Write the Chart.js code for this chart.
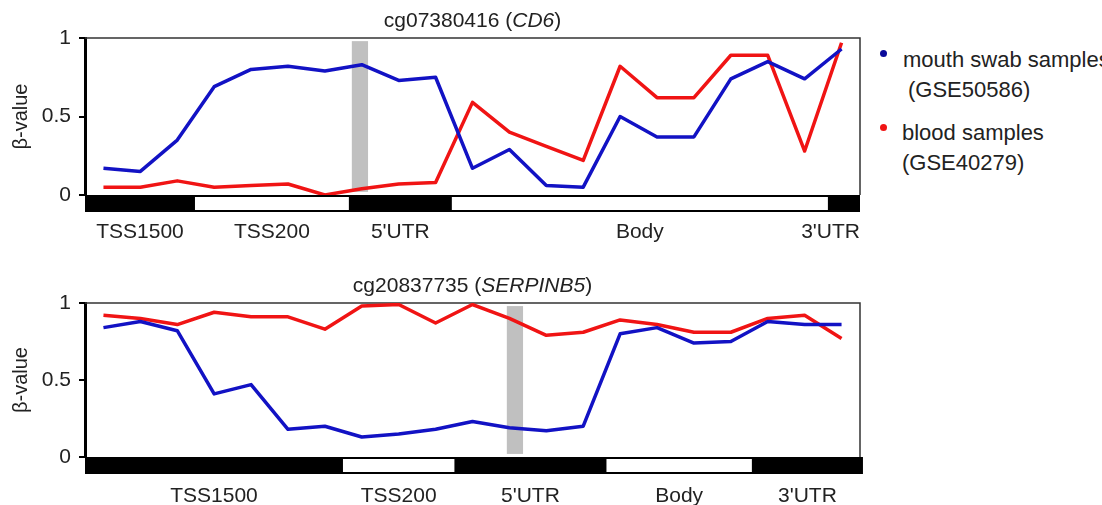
<!DOCTYPE html>
<html>
<head>
<meta charset="utf-8">
<script src="https://cdn.jsdelivr.net/npm/chart.js@4.4.1/dist/chart.umd.min.js"></script>
<style>
  html, body { margin: 0; padding: 0; background: #fff; }
  body { width: 1102px; height: 505px; position: relative; overflow: hidden;
         font-family: 'Liberation Sans', Arial, sans-serif; color: #222; }
  canvas { position: absolute; left: 0; }
  #cTop { top: 0; }
  #cBot { top: 260px; }
  .leg { position: absolute; font-size: 22px; line-height: 26px; white-space: nowrap; }
  .dot { position: absolute; width: 7px; height: 7px; border-radius: 50%; }
</style>
</head>
<body>
<canvas id="cTop" width="880" height="250"></canvas>
<canvas id="cBot" width="880" height="245"></canvas>

<div class="dot" style="left:880px; top:50px; background:#0a0a9a"></div>
<div class="leg" style="left:903px; top:47px">mouth swab samples</div>
<div class="leg" style="left:908px; top:77px">(GSE50586)</div>
<div class="dot" style="left:880px; top:124px; background:#f01414"></div>
<div class="leg" style="left:902px; top:120px">blood samples</div>
<div class="leg" style="left:902px; top:150px">(GSE40279)</div>

<script>
// CpG probes along the gene, 21 per panel
var probes = ['1','2','3','4','5','6','7','8','9','10','11','12','13','14','15','16','17','18','19','20','21'];

// cg07380416 (CD6)
var mouthCD6 = [0.17,0.15,0.35,0.69,0.80,0.82,0.79,0.83,0.73,0.75,0.17,0.29,0.06,0.05,0.50,0.37,0.37,0.74,0.85,0.74,0.93];
var bloodCD6 = [0.05,0.05,0.09,0.05,0.06,0.07,0.00,0.04,0.07,0.08,0.59,0.40,0.31,0.22,0.82,0.62,0.62,0.89,0.89,0.28,0.97];

// cg20837735 (SERPINB5)
var mouthSERP = [0.84,0.88,0.82,0.41,0.47,0.18,0.20,0.13,0.15,0.18,0.23,0.19,0.17,0.20,0.80,0.84,0.74,0.75,0.88,0.86,0.86];
var bloodSERP = [0.92,0.90,0.86,0.94,0.91,0.91,0.83,0.98,0.99,0.87,0.99,0.90,0.79,0.81,0.89,0.86,0.81,0.81,0.90,0.92,0.77];

// gene regions, spans in probe index units
var regionNames = ['TSS1500', 'TSS200', "5'UTR", 'Body', "3'UTR"];
var regionsCD6 = [[-0.5, 2.48], [2.48, 6.65], [6.65, 9.44], [9.44, 19.63], [19.63, 20.5]];
var regionsSERP = [[-0.5, 6.49], [6.49, 9.51], [9.51, 13.63], [13.63, 17.57], [17.57, 20.58]];

// highlighted probe column
var probeCD6 = [6.73, 7.17];
var probeSERP = [10.93, 11.37];

var yTicks = [0, 0.5, 1];

var FONT = "'Liberation Sans', Arial, sans-serif";
var TXT = '#222';

var annot = {
    id: 'annot',
    beforeDatasetsDraw: function (chart, args, o) {
        var ctx = chart.ctx, a = chart.chartArea, x = chart.scales.x, y = chart.scales.y;
        ctx.save();
        ctx.fillStyle = '#c0c0c0';
        var x0 = x.getPixelForValue(o.probe[0]), x1 = x.getPixelForValue(o.probe[1]);
        var y0 = y.getPixelForValue(0.98), y1 = y.getPixelForValue(0.02);
        ctx.fillRect(x0, y0, x1 - x0, y1 - y0);
        // top and right side of the frame
        ctx.strokeStyle = '#333';
        ctx.lineWidth = 1.5;
        ctx.beginPath();
        ctx.moveTo(a.left, a.top);
        ctx.lineTo(a.right, a.top);
        ctx.lineTo(a.right, a.bottom);
        ctx.stroke();
        ctx.restore();
    },
    afterDraw: function (chart, args, o) {
        var ctx = chart.ctx, a = chart.chartArea, x = chart.scales.x;
        ctx.save();
        // region bar
        var top = a.bottom, h = 17;
        var xl = x.getPixelForValue(o.regions[0][0]);
        var xr = x.getPixelForValue(o.regions[o.regions.length - 1][1]);
        ctx.fillStyle = '#000';
        ctx.fillRect(xl, top, xr - xl, h);
        ctx.font = '21px ' + FONT;
        ctx.textBaseline = 'alphabetic';
        o.regions.forEach(function (r, i) {
            var p0 = x.getPixelForValue(r[0]), p1 = x.getPixelForValue(r[1]);
            if (i % 2 == 1) {
                ctx.fillStyle = '#fff';
                ctx.fillRect(p0, top + 2, p1 - p0, h - 4);
            }
            var w = ctx.measureText(regionNames[i]).width;
            var cx = (p0 + p1) / 2;
            var lx = Math.min(Math.max(cx - w / 2, a.left), a.right - w);
            ctx.fillStyle = TXT;
            ctx.fillText(regionNames[i], lx, top + h + o.labelGap);
        });
        // title with italic gene name
        var f1 = '21px ' + FONT, f2 = 'italic 21px ' + FONT;
        ctx.font = f1;
        var w1 = ctx.measureText(o.title + ' (').width;
        var w3 = ctx.measureText(')').width;
        ctx.font = f2;
        var w2 = ctx.measureText(o.gene).width;
        var tx = (a.left + a.right) / 2 - (w1 + w2 + w3) / 2;
        var ty = a.top - 11;
        ctx.fillStyle = TXT;
        ctx.font = f1;
        ctx.fillText(o.title + ' (', tx, ty);
        ctx.font = f2;
        ctx.fillText(o.gene, tx + w1, ty);
        ctx.font = f1;
        ctx.fillText(')', tx + w1 + w2, ty);
        ctx.restore();
    }
};

function makeChart(id, mouth, blood, pad, extra) {
    var ctx = document.getElementById(id).getContext('2d');
    return new Chart(ctx, {
        type: 'line',
        data: {
            labels: probes,
            datasets: [
                { label: 'mouth swab samples (GSE50586)', data: mouth, borderColor: '#1212c4', borderWidth: 3.5 },
                { label: 'blood samples (GSE40279)', data: blood, borderColor: '#f01414', borderWidth: 3.5 }
            ]
        },
        options: {
            responsive: false,
            animation: false,
            layout: { padding: pad },
            elements: { point: { radius: 0 }, line: { tension: 0, borderJoinStyle: 'round' } },
            plugins: {
                legend: { display: false },
                tooltip: { enabled: false },
                annot: extra
            },
            scales: {
                x: { type: 'category', offset: true, display: false },
                y: {
                    min: 0, max: 1,
                    afterFit: function (s) { s.width = 85; },
                    afterBuildTicks: function (s) { s.ticks = yTicks.map(function (v) { return { value: v }; }); },
                    border: { color: '#000', width: 3 },
                    grid: { drawOnChartArea: false, drawTicks: true, tickLength: 6, color: '#000', lineWidth: 2 },
                    ticks: {
                        padding: 8, color: TXT, font: { family: FONT, size: 21 },
                        callback: function (v) { return String(v); }
                    },
                    title: { display: true, text: 'β-value', color: TXT, padding: { top: 9 }, font: { family: FONT, size: 20 } }
                }
            }
        },
        plugins: [annot]
    });
}

var topChart = makeChart('cTop', mouthCD6, bloodCD6,
    { left: 0, right: 20, top: 38, bottom: 55 },
    { title: 'cg07380416', gene: 'CD6', regions: regionsCD6, probe: probeCD6, labelGap: 26 });

var botChart = makeChart('cBot', mouthSERP, bloodSERP,
    { left: 0, right: 20, top: 43, bottom: 48 },
    { title: 'cg20837735', gene: 'SERPINB5', regions: regionsSERP, probe: probeSERP, labelGap: 28 });
</script>
</body>
</html>
